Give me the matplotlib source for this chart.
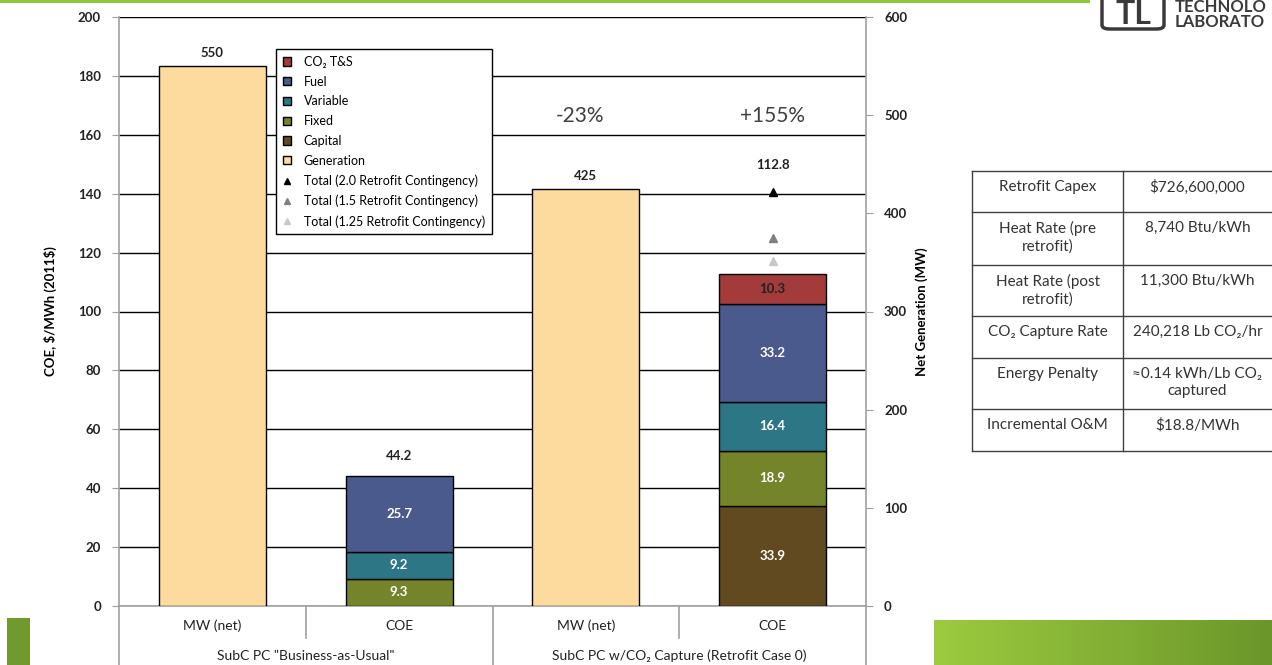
import numpy as np
import matplotlib
matplotlib.use("Agg")
from matplotlib import pyplot as plt
from matplotlib import transforms
from matplotlib.patches import Patch, Rectangle, FancyBboxPatch, Circle
from matplotlib.lines import Line2D

plt.rcParams['font.family'] = ['Lato', 'DejaVu Sans']

# x axis categories and their groups
categories = ["MW (net)", "COE", "MW (net)", "COE"]
groups = ['SubC PC "Business-as-Usual"', "SubC PC w/CO₂ Capture (Retrofit Case 0)"]

# net generation, MW (right axis)
gen_pos = [0, 2]
generation = [550, 425]

# cost of electricity components, $/MWh (left axis)
coe_pos = [1, 3]
capital = [0.0, 33.9]
fixed = [9.3, 18.9]
variable = [9.2, 16.4]
fuel = [25.7, 33.2]
co2_ts = [0.0, 10.3]
coe_total = [44.2, 112.8]

# retrofit COE totals for three capital contingency factors
contingency_labels = ["Total (2.0 Retrofit Contingency)",
                      "Total (1.5 Retrofit Contingency)",
                      "Total (1.25 Retrofit Contingency)"]
contingency_totals = [140.7, 125.0, 117.1]

# change vs. business-as-usual
change_labels = ["-23%", "+155%"]

# retrofit summary table
table_labels = ["Retrofit Capex", "Heat Rate (pre\nretrofit)", "Heat Rate (post\nretrofit)",
                "CO₂ Capture Rate", "Energy Penalty", "Incremental O&M"]
table_values = ["\\$726,600,000", "8,740 Btu/kWh", "11,300 Btu/kWh",
                "240,218 Lb CO₂/hr", "≈0.14 kWh/Lb CO₂\ncaptured", "\\$18.8/MWh"]

W, H = 1272, 665


def fx(x):
    return x / W


def fy(y):
    return 1 - y / H


fig = plt.figure(figsize=(W / 100, H / 100), dpi=100)
ax = fig.add_axes([fx(119), fy(606), fx(866 - 119), (606 - 17) / H])
ax2 = ax.twinx()

bar_w = 0.573
edge = dict(edgecolor='black', linewidth=1)

# generation bars
ax2.bar(gen_pos, generation, width=bar_w, color='#FDDA9D', **edge, zorder=3)
for x, v in zip(gen_pos, generation):
    ax2.annotate(f"{v}", (x, v), xytext=(0, 9.5), textcoords='offset points',
                 ha='center', va='center', fontsize=9.5, fontweight='bold', color='#222222')

# stacked COE bars
segments = [(capital, '#624A20', 'white'), (fixed, '#74842B', 'white'),
            (variable, '#2D7686', 'white'), (fuel, '#4A5A8C', 'white'),
            (co2_ts, '#A23B3A', '#222222')]
for i, x in enumerate(coe_pos):
    bottom = 0.0
    for vals, color, tcolor in segments:
        v = vals[i]
        if v <= 0:
            continue
        ax.bar(x, v, bottom=bottom, width=bar_w, color=color, **edge, zorder=3)
        ax.text(x, bottom + v / 2, f"{v:.1f}", ha='center', va='center',
                fontsize=9.5, fontweight='bold', color=tcolor, zorder=4)
        bottom += v

ax.annotate(f"{coe_total[0]:.1f}", (coe_pos[0], coe_total[0]), xytext=(0, 14),
            textcoords='offset points', ha='center', va='center',
            fontsize=9.5, fontweight='bold', color='#222222')
ax.annotate(f"{coe_total[1]:.1f}", (coe_pos[1], max(contingency_totals)), xytext=(0, 19),
            textcoords='offset points', ha='center', va='center',
            fontsize=9.5, fontweight='bold', color='#222222')

# contingency markers
tri_colors = ['black', '#808080', '#C8C8C8']
for v, c in zip(contingency_totals, tri_colors):
    ax.plot(coe_pos[1], v, marker='^', ms=6, color=c, ls='none', zorder=5)

# percent change labels
for x, lbl in zip([1.97, 3], change_labels):
    ax.text(x, 166.5, lbl, ha='center', va='center', fontsize=15, color='#404040')

# axes styling
ax.set_xlim(-0.5, 3.5)
ax.set_ylim(0, 200)
ax2.set_ylim(0, 600)
ax.set_yticks(np.arange(0, 201, 20))
ax2.set_yticks(np.arange(0, 601, 100))
ax.grid(axis='y', color='black', linewidth=1)
ax.set_axisbelow(True)
for a in (ax, ax2):
    for s in ('top', 'bottom', 'left', 'right'):
        a.spines[s].set_visible(False)
ax.spines['left'].set_visible(True)
ax.spines['bottom'].set_visible(True)
ax2.spines['right'].set_visible(True)
for s in (ax.spines['left'], ax.spines['bottom'], ax2.spines['right']):
    s.set_color('#A0A0A0')
    s.set_linewidth(1.2)
ax.tick_params(axis='y', direction='out', length=5, color='#A0A0A0', pad=8,
               labelsize=9.5, labelcolor='#222222')
ax2.tick_params(axis='y', direction='out', length=5, color='#A0A0A0', pad=8,
                labelsize=9.5, labelcolor='#222222')
for lbl in ax.get_yticklabels() + ax2.get_yticklabels():
    lbl.set_fontweight('bold')

ax.set_xticks(range(len(categories)), categories)
ax.tick_params(axis='x', length=0, pad=10, labelsize=10, labelcolor='#222222')

ax.set_ylabel("COE, \\$/MWh (2011\\$)", fontsize=9.5, fontweight='bold', labelpad=15)
ax2.set_ylabel("Net Generation (MW)", fontsize=9.5, fontweight='bold', labelpad=6)

# category separators below the plot
trans = transforms.blended_transform_factory(ax.transData, ax.transAxes)
bottom_y = (606 - 665) / 589
short_y = (606 - 638) / 589
for x, y1 in [(-0.5, bottom_y), (0.5, short_y), (1.5, bottom_y), (2.5, short_y), (3.5, bottom_y)]:
    ax.plot([x, x], [0, y1], transform=trans, clip_on=False, color='#A0A0A0', lw=1.2)
for xc, g in zip([0.5, 2.5], groups):
    ax.text(xc, (606 - 656) / 589, g, transform=trans, ha='center', va='center',
            fontsize=10, color='#222222')

# legend
handles = [Patch(facecolor=c, label=l, **edge) for c, l in
           [('#A23B3A', 'CO₂ T&S'), ('#4A5A8C', 'Fuel'), ('#2D7686', 'Variable'),
            ('#74842B', 'Fixed'), ('#624A20', 'Capital'), ('#FDDA9D', 'Generation')]]
handles += [Line2D([], [], marker='^', ls='none', ms=5, color=c, label=l)
            for c, l in zip(tri_colors, contingency_labels)]
leg = ax2.legend(handles=handles, loc='upper left',
                 bbox_to_anchor=((276 - 119) / 747, (606 - 49) / 589),
                 fontsize=9, frameon=True, fancybox=False, framealpha=1,
                 edgecolor='black', handlelength=0.65, handleheight=0.65,
                 handletextpad=1.0, labelspacing=0.62, borderpad=0.55,
                 borderaxespad=0)
leg.get_frame().set_linewidth(1)
leg.set_zorder(10)

# table on the right
row_y = [171, 212, 265, 316, 358, 409, 451]
x_left, x_mid, x_right = 972, 1123, 1272
for y in row_y:
    fig.add_artist(Line2D([fx(x_left), fx(x_right)], [fy(y), fy(y)], color='#404040', lw=1))
for x in (x_left, x_mid):
    fig.add_artist(Line2D([fx(x), fx(x)], [fy(row_y[0]), fy(row_y[-1])], color='#404040', lw=1))
for i, (lbl, val) in enumerate(zip(table_labels, table_values)):
    ytop = row_y[i] + 9
    fig.text(fx((x_left + x_mid) / 2), fy(ytop), lbl, ha='center', va='top',
             fontsize=11, color='#333333', linespacing=1.3)
    fig.text(fx((x_mid + x_right) / 2), fy(ytop), val, ha='center', va='top',
             fontsize=11, color='#333333', linespacing=1.3)

# page decorations: top rule, logo, seal, footer band
fig.add_artist(Rectangle((0, fy(3)), fx(1090), 3 / H, transform=fig.transFigure,
                         color='#8DC63F', lw=0))
fig.add_artist(FancyBboxPatch((fx(1102), fy(29)), fx(62), 60 / H,
                              boxstyle='round,pad=0,rounding_size=0.006',
                              transform=fig.transFigure, fill=False,
                              edgecolor='#3a3a3a', lw=2.5))
fig.text(fx(1133), fy(24), "TL", ha='center', va='baseline', fontsize=23,
         fontweight='bold', color='#3a3a3a')
fig.text(fx(1175), fy(12.5), "TECHNOLO", ha='left', va='baseline', fontsize=12,
         fontweight='bold', color='#3a3a3a')
fig.text(fx(1175), fy(27), "LABORATO", ha='left', va='baseline', fontsize=12,
         fontweight='bold', color='#3a3a3a')

fig.add_artist(Rectangle((fx(7), 0), fx(23), 47 / H, transform=fig.transFigure,
                         color='#6F9A2E', lw=0))
seal = fig.add_axes([fx(7), 0, fx(23), 47 / H])
seal.set_xlim(0, 23)
seal.set_ylim(0, 47)
seal.axis('off')
seal.add_patch(Circle((15, 22), 11, fill=False, edgecolor='#E8F0D8', lw=1.2))
seal.add_patch(Rectangle((11, 15), 8, 12, fill=False, edgecolor='#E8F0D8', lw=1))

band = fig.add_axes([fx(934), 0, fx(W - 934), (665 - 620) / H])
grad = np.linspace(0, 1, 256)[None, :]
c0 = np.array([0x9C, 0xCB, 0x3F]) / 255
c1 = np.array([0x6B, 0x96, 0x2A]) / 255
img = c0[None, None, :] * (1 - grad[..., None]) + c1[None, None, :] * grad[..., None]
band.imshow(img, aspect='auto', extent=(0, 1, 0, 1))
band.axis('off')

fig.savefig("out.png", dpi=100)
